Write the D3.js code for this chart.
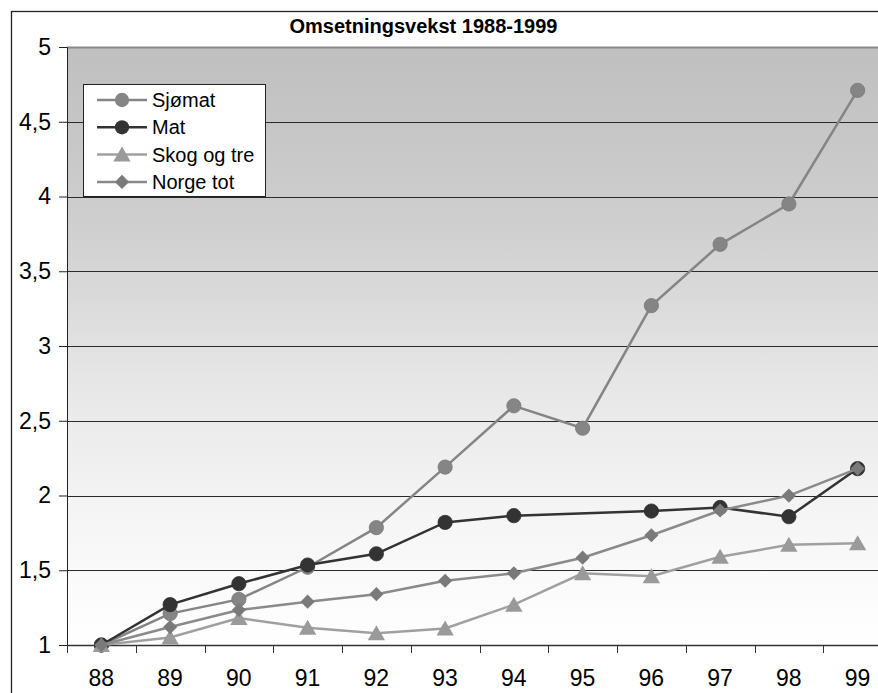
<!DOCTYPE html>
<html><head><meta charset="utf-8">
<script src="https://cdn.jsdelivr.net/npm/d3@7"></script>
<style>body{margin:0;background:#fff}svg{display:block;font-family:"Liberation Sans",Arial,sans-serif}</style>
</head><body>
<svg id="c" width="878" height="693"></svg>
<script>
const years = ["88","89","90","91","92","93","94","95","96","97","98","99"];
const yTicks = [1,1.5,2,2.5,3,3.5,4,4.5,5];
const sjomat = [1.0,1.21,1.305,1.52,1.785,2.19,2.6,2.45,3.27,3.68,3.95,4.71];
const mat    = [1.0,1.27,1.41,1.535,1.61,1.82,1.865,null,1.896,1.92,1.858,2.18];
const skog   = [1.0,1.05,1.18,1.116,1.078,1.11,1.27,1.48,1.46,1.59,1.67,1.68];
const norge  = [1.0,1.12,1.234,1.29,1.34,1.43,1.48,1.584,1.734,1.90,1.999,2.18];
const seriesNames = ["Sjømat","Mat","Skog og tre","Norge tot"];
const title = "Omsetningsvekst 1988-1999";

const series = [
  {name:seriesNames[0], values:sjomat, line:"#858585", fill:"#858585", shape:"circle"},
  {name:seriesNames[1], values:mat,    line:"#333333", fill:"#333333", shape:"circle"},
  {name:seriesNames[2], values:skog,   line:"#a0a0a0", fill:"#9a9a9a", shape:"triangle"},
  {name:seriesNames[3], values:norge,  line:"#8a8a8a", fill:"#7a7a7a", shape:"diamond"}
];

const svg = d3.select("#c");
const L=67, T=47, R=892, B=645;
const x = d3.scaleBand().domain(years).range([L,R]);
const y = d3.scaleLinear().domain([1,5]).range([B,T]);

// outer border
svg.append("rect").attr("x",11.5).attr("y",11.5).attr("width",1000).attr("height",1000)
  .attr("fill","#fff").attr("stroke","#222").attr("stroke-width",1.3);

const defs = svg.append("defs");
const g = defs.append("linearGradient").attr("id","bg").attr("x1",0).attr("y1",0).attr("x2",0).attr("y2",1);
[[0,"#bfbfbf"],[0.3,"#cfcfcf"],[0.55,"#e6e6e6"],[0.78,"#f5f5f5"],[1,"#ffffff"]].forEach(s=>
  g.append("stop").attr("offset",s[0]).attr("stop-color",s[1]));
svg.append("rect").attr("x",L).attr("y",T).attr("width",R-L).attr("height",B-T).attr("fill","url(#bg)");

// gridlines
svg.append("g").selectAll("line").data(yTicks.filter(d=>d>1)).join("line")
  .attr("x1",L).attr("x2",R).attr("y1",d=>Math.round(y(d))+0.5).attr("y2",d=>Math.round(y(d))+0.5)
  .attr("stroke",d=>d===5?"#888":"#2a2a2a").attr("stroke-width",d=>d===5?2:1);

// y axis
const ya = svg.append("g").attr("transform",`translate(${L},0)`)
  .call(d3.axisLeft(y).tickValues(yTicks).tickSize(8).tickPadding(8).tickFormat(d=>String(d).replace(".",",")));
ya.select(".domain").attr("stroke","#222");
ya.selectAll(".tick line").attr("stroke","#222");
ya.selectAll("text").attr("font-size",23).attr("fill","#000");

// x axis
const xa = svg.append("g").attr("transform",`translate(0,${B})`)
  .call(d3.axisBottom(x).tickSize(0).tickPadding(25));
xa.select(".domain").attr("stroke","#333").attr("stroke-width",1.5);
xa.selectAll("text").attr("font-size",23).attr("fill","#000");
svg.append("g").selectAll("line").data(years).join("line")
  .attr("x1",d=>Math.round(x(d))+0.5).attr("x2",d=>Math.round(x(d))+0.5)
  .attr("y1",B).attr("y2",B+8).attr("stroke","#333");

const diamond = {draw(ctx, size){const r=Math.sqrt(size/2); ctx.moveTo(0,-r);ctx.lineTo(r,0);ctx.lineTo(0,r);ctx.lineTo(-r,0);ctx.closePath();}};
const sym = {
  circle: d3.symbol().type(d3.symbolCircle).size(160),
  triangle: d3.symbol().type(d3.symbolTriangle).size(130),
  diamond: d3.symbol().type(diamond).size(100)
};
const cx = i => x(years[i]) + x.bandwidth()/2;

series.forEach(s=>{
  const pts = s.values.map((v,i)=>({v,i})).filter(p=>p.v!==null);
  svg.append("path").datum(pts)
    .attr("d", d3.line().x(p=>cx(p.i)).y(p=>y(p.v)))
    .attr("fill","none").attr("stroke",s.line).attr("stroke-width",2.5);
  svg.append("g").selectAll("path").data(pts).join("path")
    .attr("transform",p=>`translate(${cx(p.i)},${y(p.v)+(s.shape==="triangle"?2:0)})`)
    .attr("d",sym[s.shape]()).attr("fill",s.fill)
    .attr("stroke",s.shape==="circle"?d3.color(s.fill).darker(0.3):"none").attr("stroke-width",0.8);
});

// title
svg.append("text").attr("x",423.5).attr("y",33).attr("text-anchor","middle")
  .attr("font-size",20).attr("font-weight","bold").text(title);

// legend
const lg = svg.append("g");
lg.append("rect").attr("x",83.5).attr("y",84.5).attr("width",182).attr("height",112)
  .attr("fill","#fff").attr("stroke","#222");
series.forEach((s,i)=>{
  const yy = 100 + i*27.3;
  lg.append("line").attr("x1",97).attr("x2",147).attr("y1",yy).attr("y2",yy)
    .attr("stroke",s.line).attr("stroke-width",2.5);
  lg.append("path").attr("transform",`translate(122,${yy+(s.shape==="triangle"?2:0)})`)
    .attr("d",sym[s.shape]()).attr("fill",s.fill);
  lg.append("text").attr("x",152).attr("y",yy+7).attr("font-size",20).text(s.name);
});
</script>
</body></html>
